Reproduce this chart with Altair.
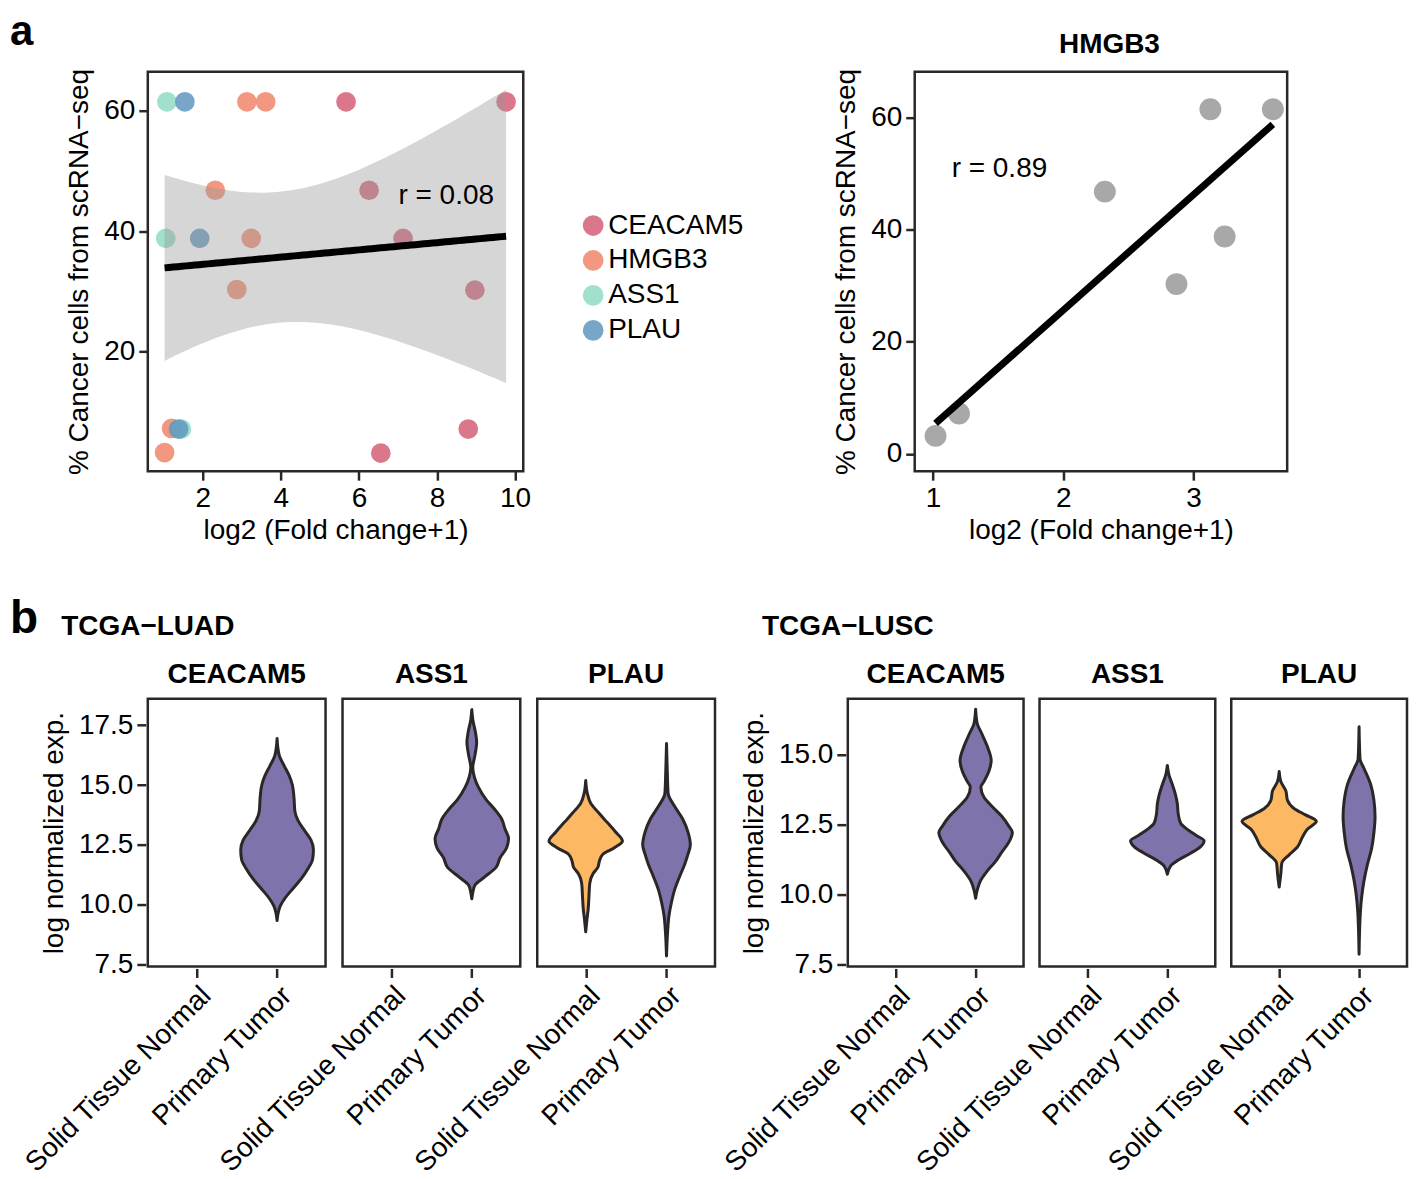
import altair as alt
import numpy as np
import pandas as pd

FONT = "Liberation Sans"
INK = "#2b2727"

# ---------------- panel a : scatter data ----------------
genes = ["CEACAM5", "HMGB3", "ASS1", "PLAU"]
gene_colors = ["#d35f76", "#f0866a", "#8fdbc4", "#5f96c0"]

ceacam5_fc = [5.67, 9.77, 6.26, 7.13, 8.97, 8.80, 6.56]
ceacam5_pct = [61.5, 61.5, 46.8, 38.8, 30.2, 7.1, 3.1]
hmgb3_fc = [1.02, 1.20, 2.32, 2.87, 3.13, 3.24, 3.61]
hmgb3_pct = [3.2, 7.2, 46.8, 30.3, 61.5, 38.8, 61.5]
ass1_fc = [1.08, 1.05, 1.45]
ass1_pct = [61.5, 38.8, 7.1]
plau_fc = [1.54, 1.92, 1.38]
plau_pct = [61.5, 38.8, 7.1]

r_all_label = "r = 0.08"
r_hmgb3_label = "r = 0.89"
panel_labels = ["a", "b"]
hmgb3_title = "HMGB3"

a_x_ticks = [2, 4, 6, 8, 10]
a_y_ticks = [20, 40, 60]
h_x_ticks = [1, 2, 3]
h_y_ticks = [0, 20, 40, 60]

# ---------------- panel b : violin profiles (level, half width) ----------------
conditions = ["Solid Tissue Normal", "Primary Tumor"]
cond_colors = ["#fdb863", "#8073ac"]
panel_genes = ["CEACAM5", "ASS1", "PLAU"]

luad_ceacam5_tumor_y = [9.34, 9.68, 9.95, 10.28, 10.69, 11.09, 11.49, 11.90, 12.30, 12.70, 13.10, 13.51, 13.91, 14.45, 14.99, 15.39, 15.79, 16.20, 16.60, 16.94]
luad_ceacam5_tumor_w = [0, 0.015, 0.04, 0.10, 0.20, 0.30, 0.38, 0.44, 0.45, 0.42, 0.34, 0.26, 0.22, 0.21, 0.19, 0.15, 0.09, 0.03, 0.008, 0]
luad_ass1_tumor_y = [10.25, 10.5, 10.82, 11.16, 11.56, 11.96, 12.37, 12.77, 13.17, 13.58, 13.98, 14.38, 14.92, 15.32, 15.73, 16.26, 16.80, 17.21, 17.74, 18.15]
luad_ass1_tumor_w = [0, 0.012, 0.04, 0.16, 0.30, 0.35, 0.43, 0.455, 0.41, 0.37, 0.285, 0.18, 0.08, 0.033, 0.012, 0.04, 0.06, 0.045, 0.012, 0]
luad_plau_normal_y = [8.87, 9.41, 9.81, 10.35, 10.89, 11.29, 11.56, 11.83, 12.10, 12.37, 12.66, 13.04, 13.44, 13.84, 14.25, 14.65, 15.19]
luad_plau_normal_w = [0, 0.016, 0.03, 0.04, 0.05, 0.09, 0.15, 0.17, 0.21, 0.35, 0.455, 0.37, 0.265, 0.16, 0.06, 0.02, 0]
luad_plau_tumor_y = [7.86, 9.0, 9.54, 10.08, 10.62, 11.16, 11.69, 12.10, 12.50, 13.04, 13.58, 14.11, 14.65, 15.5, 16.73]
luad_plau_tumor_w = [0, 0.016, 0.03, 0.06, 0.10, 0.16, 0.225, 0.265, 0.295, 0.265, 0.20, 0.10, 0.02, 0.01, 0]

lusc_ceacam5_tumor_y = [9.87, 10.16, 10.50, 10.84, 11.19, 11.53, 11.87, 12.22, 12.45, 12.79, 13.14, 13.48, 13.85, 14.05, 14.40, 14.80, 15.31, 15.77, 16.12, 16.63]
lusc_ceacam5_tumor_w = [0, 0.02, 0.062, 0.145, 0.25, 0.33, 0.415, 0.46, 0.415, 0.33, 0.21, 0.105, 0.066, 0.105, 0.165, 0.195, 0.145, 0.075, 0.02, 0]
lusc_ass1_tumor_y = [10.73, 11.02, 11.25, 11.48, 11.70, 11.93, 12.10, 12.33, 12.56, 12.91, 13.25, 13.59, 13.94, 14.28, 14.62]
lusc_ass1_tumor_w = [0, 0.04, 0.145, 0.29, 0.41, 0.46, 0.37, 0.25, 0.165, 0.135, 0.125, 0.10, 0.062, 0.02, 0]
lusc_plau_normal_y = [10.27, 10.73, 11.13, 11.42, 11.70, 12.05, 12.33, 12.62, 12.85, 13.08, 13.37, 13.71, 14.05, 14.40]
lusc_plau_normal_w = [0, 0.02, 0.033, 0.124, 0.228, 0.29, 0.35, 0.465, 0.33, 0.186, 0.104, 0.083, 0.02, 0]
lusc_plau_tumor_y = [7.87, 9.36, 9.93, 10.50, 11.07, 11.65, 12.22, 12.79, 13.37, 13.94, 14.51, 14.85, 16.0]
lusc_plau_tumor_w = [0, 0.016, 0.033, 0.062, 0.104, 0.157, 0.186, 0.20, 0.186, 0.145, 0.062, 0.012, 0]

luad_violins = [
    ("CEACAM5", "Primary Tumor", luad_ceacam5_tumor_y, luad_ceacam5_tumor_w),
    ("ASS1", "Primary Tumor", luad_ass1_tumor_y, luad_ass1_tumor_w),
    ("PLAU", "Solid Tissue Normal", luad_plau_normal_y, luad_plau_normal_w),
    ("PLAU", "Primary Tumor", luad_plau_tumor_y, luad_plau_tumor_w),
]
lusc_violins = [
    ("CEACAM5", "Primary Tumor", lusc_ceacam5_tumor_y, lusc_ceacam5_tumor_w),
    ("ASS1", "Primary Tumor", lusc_ass1_tumor_y, lusc_ass1_tumor_w),
    ("PLAU", "Solid Tissue Normal", lusc_plau_normal_y, lusc_plau_normal_w),
    ("PLAU", "Primary Tumor", lusc_plau_tumor_y, lusc_plau_tumor_w),
]

luad_y_ticks = [7.5, 10.0, 12.5, 15.0, 17.5]
lusc_y_ticks = [7.5, 10.0, 12.5, 15.0]

# ---------------- build tables ----------------
rows = []
k = 0
for g, xs_, ys_ in zip(genes, [ceacam5_fc, hmgb3_fc, ass1_fc, plau_fc],
                       [ceacam5_pct, hmgb3_pct, ass1_pct, plau_pct]):
    for xv, yv in zip(xs_, ys_):
        rows.append({"gene": g, "fc": xv, "pct": yv, "ord": k})
        k += 1
pts = pd.DataFrame(rows)

# linear fit with 95% confidence band (as geom_smooth(method="lm"))
x = pts["fc"].to_numpy()
y = pts["pct"].to_numpy()
n = len(x)
xm, ym = x.mean(), y.mean()
sxx = ((x - xm) ** 2).sum()
slope = ((x - xm) * (y - ym)).sum() / sxx
icpt = ym - slope * xm
s = np.sqrt(((y - (icpt + slope * x)) ** 2).sum() / (n - 2))
T975 = 2.100922  # t quantile, df = 18
grid = np.linspace(x.min(), x.max(), 80)
fit = icpt + slope * grid
se = s * np.sqrt(1.0 / n + (grid - xm) ** 2 / sxx)
band = pd.DataFrame({"fc": grid, "pct": fit, "lo": fit - T975 * se, "hi": fit + T975 * se})

hm = pd.DataFrame({"fc": hmgb3_fc, "pct": hmgb3_pct})


def violin_table(violins):
    out = []
    for g, cond, ys_, ws_ in violins:
        pos = conditions.index(cond) + 1
        for yv, wv in zip(ys_, ws_):
            out.append({"gene": g, "cond": cond, "expr": yv, "lo": pos - wv, "hi": pos + wv})
    return pd.DataFrame(out)


luad_df = violin_table(luad_violins)
lusc_df = violin_table(lusc_violins)


def label_layer(text, size, align, px, py):
    return alt.Chart(pd.DataFrame({"label": [text]})).mark_text(
        align=align, baseline="alphabetic", fontSize=size, fontWeight="bold", font=FONT,
        color="black").encode(x=alt.value(px), y=alt.value(py), text="label:N")


# ---------------- panel a charts ----------------
xsc_a = alt.Scale(domain=[0.59, 10.21], nice=False, zero=False)
ysc_a = alt.Scale(domain=[0.1, 66.5], nice=False, zero=False)
ax_a_x = alt.Axis(values=a_x_ticks, title="log2 (Fold change+1)", titlePadding=4)
ax_a_y = alt.Axis(values=a_y_ticks, title="% Cancer cells from scRNA\u2212seq")


def xa(field):
    return alt.X(f"{field}:Q", scale=xsc_a, axis=ax_a_x)


def ya(field):
    return alt.Y(f"{field}:Q", scale=ysc_a, axis=ax_a_y)


pts_layer = alt.Chart(pts).mark_circle(size=390, opacity=0.85).encode(
    x=xa("fc"), y=ya("pct"),
    color=alt.Color("gene:N", scale=alt.Scale(domain=genes, range=gene_colors),
                    legend=alt.Legend(orient="none", legendX=432, legendY=140, title=None,
                                      symbolType="circle", symbolSize=430, symbolOpacity=0.85,
                                      symbolStrokeWidth=0, labelFontSize=28, labelFont=FONT,
                                      labelColor="black", rowPadding=7, labelOffset=1, padding=0)),
    order=alt.Order("ord:Q"),
)
band_layer = alt.Chart(band).mark_area(color="#999999", opacity=0.4).encode(
    x=xa("fc"), y=ya("lo"), y2="hi:Q")
line_layer = alt.Chart(band).mark_line(color="black", strokeWidth=7).encode(x=xa("fc"), y=ya("pct"))
r_a = alt.Chart(pd.DataFrame({"label": [r_all_label]})).mark_text(
    align="left", baseline="middle", fontSize=28, font=FONT, color="black").encode(
    x=alt.value(251), y=alt.value(124), text="label:N")

left = alt.layer(
    pts_layer, band_layer, line_layer, r_a,
    label_layer(panel_labels[0], 42, "left", -138, -27),
).properties(width=376, height=400)

xsc_h = alt.Scale(domain=[0.86, 3.72], nice=False, zero=False)
ysc_h = alt.Scale(domain=[-3.1, 68.2], nice=False, zero=False)
xh = alt.X("fc:Q", scale=xsc_h, axis=alt.Axis(values=h_x_ticks, title="log2 (Fold change+1)", titlePadding=4))
yh = alt.Y("pct:Q", scale=ysc_h, axis=alt.Axis(values=h_y_ticks, title="% Cancer cells from scRNA\u2212seq"))
hm_pts = alt.Chart(hm).mark_circle(size=480, color="#a8a8a8", opacity=1).encode(x=xh, y=yh)
hm_line = alt.Chart(hm).transform_regression("fc", "pct").mark_line(
    color="black", strokeWidth=7).encode(x=xh, y=yh)
r_h = alt.Chart(pd.DataFrame({"label": [r_hmgb3_label]})).mark_text(
    align="left", baseline="middle", fontSize=28, font=FONT, color="black").encode(
    x=alt.value(37), y=alt.value(97), text="label:N")
right = alt.layer(
    hm_pts, hm_line, r_h,
    label_layer(hmgb3_title, 28, "center", 195, -19),
).properties(width=373, height=400)

top = alt.hconcat(left, right, spacing=392, bounds="flush")

# ---------------- panel b charts ----------------
label_expr = f"datum.value == 1 ? '{conditions[0]}' : '{conditions[1]}'"


def cohort_chart(df, title, ydom, yticks, pw, ph, sp):
    base = alt.Chart(df).mark_area(orient="horizontal", interpolate="monotone", stroke=INK,
                                   strokeWidth=3, strokeJoin="round").encode(
        y=alt.Y("expr:Q", scale=alt.Scale(domain=ydom, nice=False, zero=False),
                axis=alt.Axis(values=yticks, format=".1f", title="log normalized exp.")),
        x=alt.X("lo:Q", scale=alt.Scale(domain=[0.4, 2.6], nice=False, zero=False),
                axis=alt.Axis(values=[1, 2], labelExpr=label_expr, labelAngle=315,
                              labelAlign="right", labelBaseline="top", labelLimit=400, title=None)),
        x2="hi:Q",
        color=alt.Color("cond:N", scale=alt.Scale(domain=conditions, range=cond_colors), legend=None),
        detail="cond:N",
    ).properties(width=pw, height=ph)
    return base.facet(
        column=alt.Column("gene:N", sort=panel_genes, title=None,
                          header=alt.Header(labelFontSize=28, labelFontWeight="bold", labelFont=FONT,
                                            labelColor="black", labelPadding=8,
                                            labelBaseline="top")),
        spacing=sp,
    ).properties(title=alt.TitleParams(title, fontSize=28, fontWeight="bold", font=FONT,
                                       anchor="middle", frame="group", offset=26, dy=28,
                                       baseline="alphabetic"))


luad = cohort_chart(luad_df, "TCGA\u2212LUAD", [7.42, 18.6], luad_y_ticks, 178, 268, 13)
lusc = cohort_chart(lusc_df, "TCGA\u2212LUSC", [7.43, 17.0], lusc_y_ticks, 176, 268, 12)

bottom = alt.hconcat(luad, lusc, spacing=2).properties(
    title=alt.TitleParams(panel_labels[1], anchor="start", frame="group", fontSize=46,
                          fontWeight="bold", font=FONT, dx=-138, dy=66, offset=0,
                          baseline="alphabetic"))

chart = alt.vconcat(top, bottom, spacing=50, padding=0).resolve_scale(
    color="independent"
).configure(
    font=FONT, background="white"
).configure_view(
    stroke=INK, strokeWidth=2.5
).configure_axis(
    domain=False, grid=False, tickColor=INK, tickWidth=2.5, tickSize=9,
    labelFontSize=28, labelColor="black", labelFont=FONT, labelPadding=4,
    titleFontSize=28, titleFontWeight="normal", titleColor="black", titleFont=FONT, titlePadding=10
).configure_title(font=FONT, color="black")

chart.save("out.html", embed_options={"renderer": "svg", "actions": False})
